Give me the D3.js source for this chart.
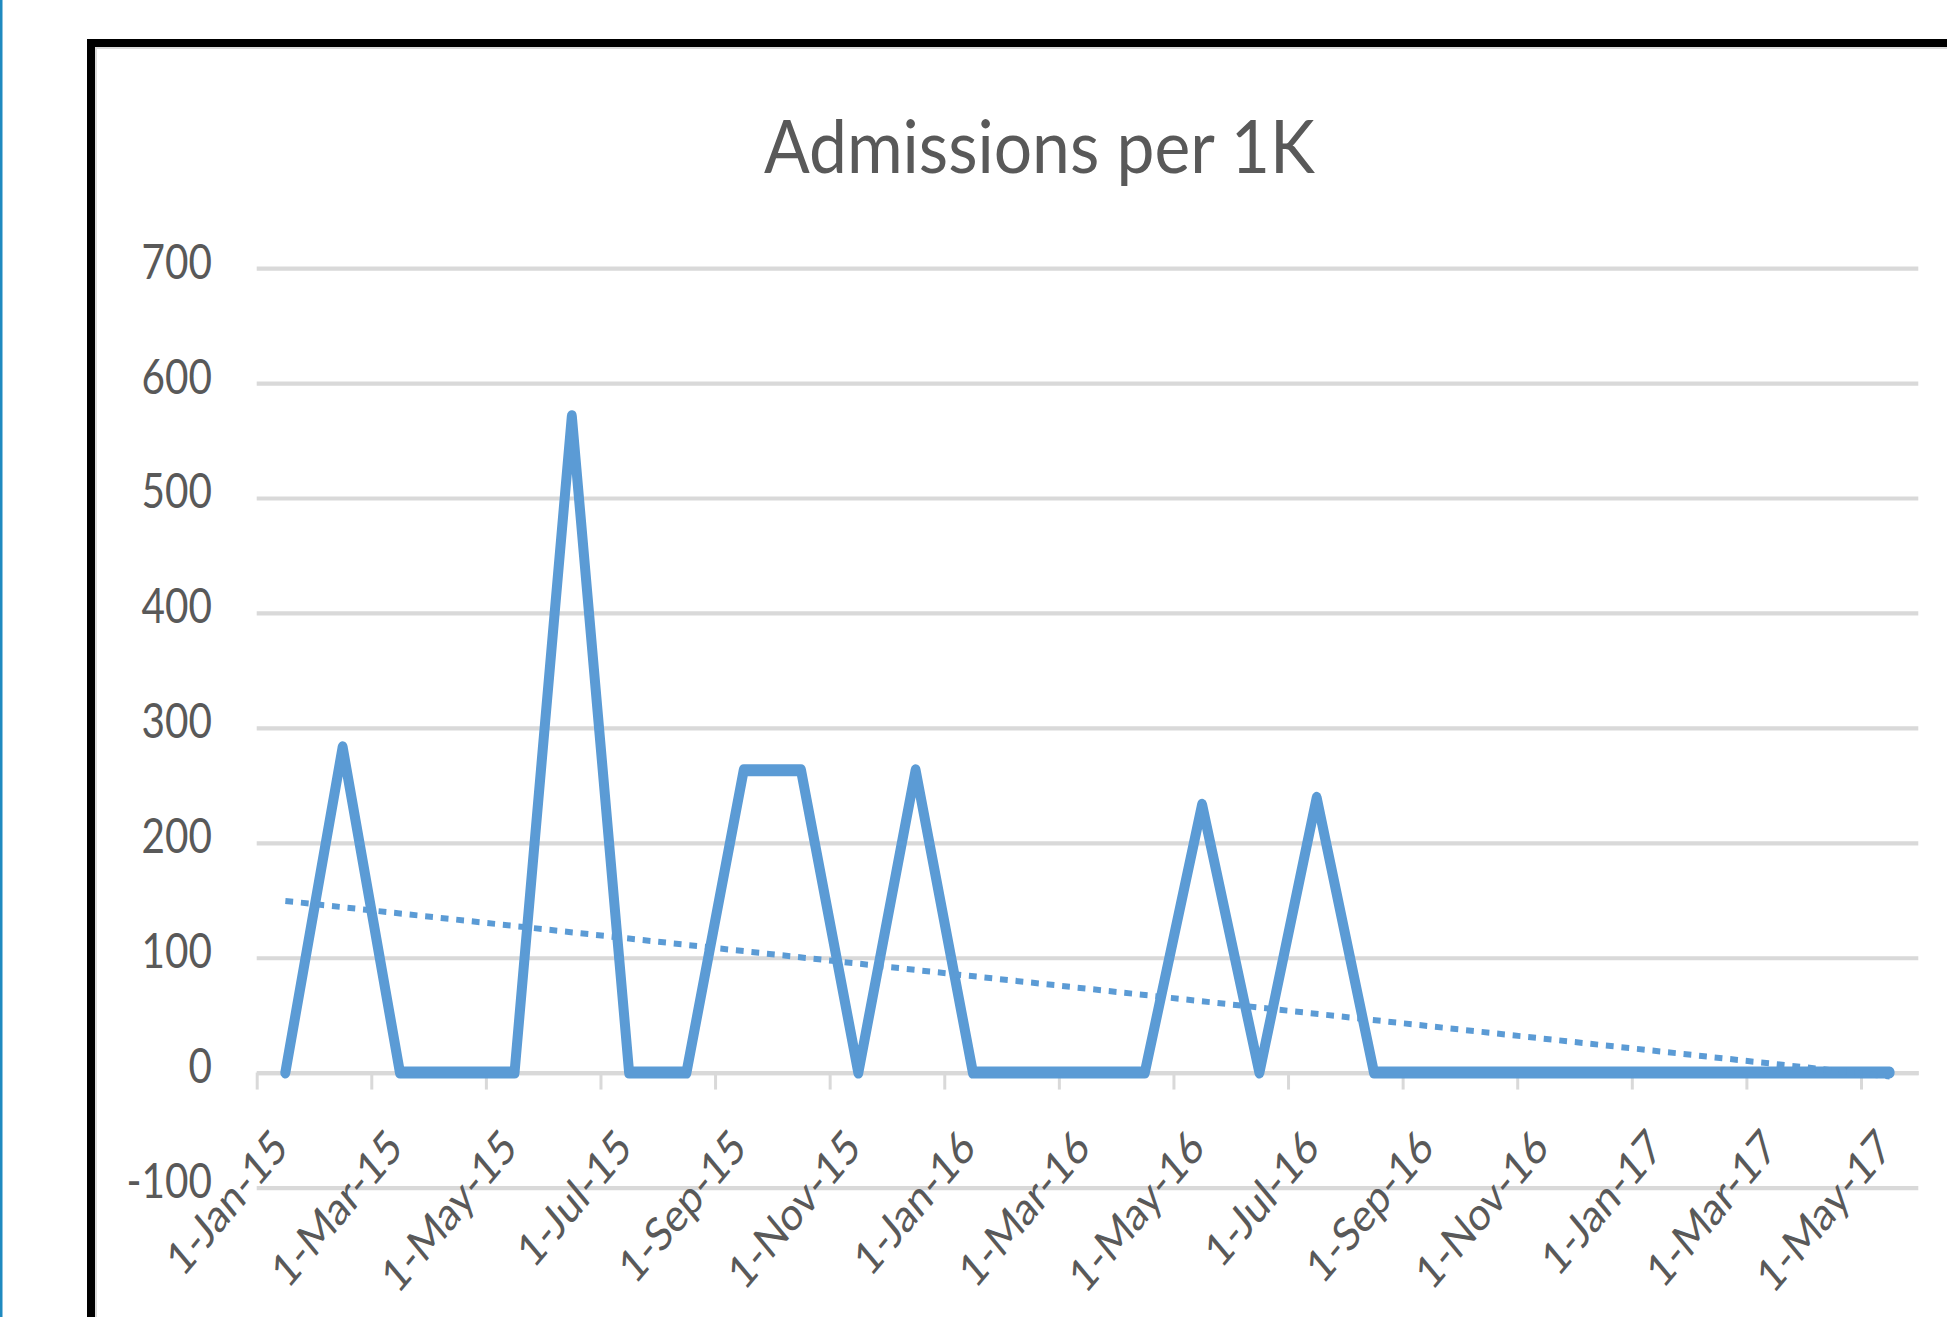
<!DOCTYPE html>
<html>
<head>
<meta charset="utf-8">
<script src="https://cdn.jsdelivr.net/npm/d3@7/dist/d3.min.js"></script>
<style>
  html, body { margin: 0; padding: 0; background: #ffffff; overflow: hidden; }
  svg { display: block; }
</style>
</head>
<body>
<script>
// ---- data ----
const chartTitle = "Admissions per 1K";
const months = [
  "1-Jan-15","1-Feb-15","1-Mar-15","1-Apr-15","1-May-15","1-Jun-15","1-Jul-15","1-Aug-15","1-Sep-15","1-Oct-15","1-Nov-15","1-Dec-15",
  "1-Jan-16","1-Feb-16","1-Mar-16","1-Apr-16","1-May-16","1-Jun-16","1-Jul-16","1-Aug-16","1-Sep-16","1-Oct-16","1-Nov-16","1-Dec-16",
  "1-Jan-17","1-Feb-17","1-Mar-17","1-Apr-17","1-May-17"
];
const admissions = [
  0, 283, 0, 0, 0, 571, 0, 0, 263, 263, 0, 263,
  0, 0, 0, 0, 233, 0, 239, 0, 0, 0, 0, 0,
  0, 0, 0, 0, 0
];
const yTickValues = [-100, 0, 100, 200, 300, 400, 500, 600, 700];
const yTickLabels = ["-100", "0", "100", "200", "300", "400", "500", "600", "700"];
const xLabelEvery = 2;

// ---- layout ----
const W = 1947, H = 1317;
const K = 1.2;               // vertical stretch of the chart picture
const BLUE = "#5B9BD5";
const GRID = "#d9d9d9";
const TEXT = "#595959";
const FONT = "Lato, 'Open Sans', sans-serif";

const svg = d3.select("body").append("svg")
  .attr("width", W).attr("height", H);

svg.append("rect").attr("width", W).attr("height", H).attr("fill", "#fff");
// thin teal edge at far left
svg.append("rect").attr("x", 0).attr("y", 0).attr("width", 2.5).attr("height", H).attr("fill", "#1f8ac0");
// black frame + inner light border
svg.append("rect").attr("x", 91).attr("y", 43).attr("width", 3000).attr("height", 3000)
  .attr("fill", "none").attr("stroke", "#000").attr("stroke-width", 8);
svg.append("rect").attr("x", 96).attr("y", 48).attr("width", 3000).attr("height", 3000)
  .attr("fill", "none").attr("stroke", "#dcdcdc").attr("stroke-width", 2);

const g = svg.append("g").attr("transform", `scale(1,${K})`);

const x0 = 256.7, x1 = 1918.3;
const x = d3.scaleLinear().domain([0, months.length]).range([x0, x1]);
const y = d3.scaleLinear().domain([-100, 700]).range([1187.5 / K, 268 / K]);

// title
g.append("text")
  .attr("x", 1039.4).attr("y", 173 / K)
  .attr("text-anchor", "middle")
  .attr("font-family", FONT).attr("font-size", 62)
  .attr("fill", TEXT)
  .attr("textLength", 551).attr("lengthAdjust", "spacingAndGlyphs")
  .text(chartTitle);

// y axis with gridlines
const yAxis = d3.axisLeft(y).tickValues(yTickValues).tickSize(-(x1 - x0)).tickSizeOuter(0)
  .tickFormat(v => yTickLabels[yTickValues.indexOf(v)]);
const ya = g.append("g").attr("transform", `translate(${x0},0)`).call(yAxis);
ya.select(".domain").remove();
ya.selectAll(".tick line").attr("stroke", GRID).attr("stroke-width", 3.5);
ya.selectAll(".tick text")
  .attr("x", 212 - x0).attr("dy", null).attr("y", 10 / K)
  .attr("text-anchor", "end")
  .attr("font-family", FONT).attr("font-size", 40.5)
  .attr("fill", TEXT);

// x axis tick marks at month boundaries (every 2 months)
const boundaryTicks = d3.range(0, months.length, xLabelEvery);
const xTickAxis = d3.axisBottom(x).tickValues(boundaryTicks).tickSize(17 / K).tickSizeOuter(0).tickFormat("");
const xt = g.append("g").attr("transform", `translate(0,${y(0)})`).call(xTickAxis);
xt.select(".domain").attr("stroke", GRID).attr("stroke-width", 3.5);
xt.selectAll(".tick line").attr("stroke", GRID).attr("stroke-width", 3);

// x labels centred on their month
const labelIdx = d3.range(0, months.length, xLabelEvery);
const xLabelAxis = d3.axisBottom(x).tickValues(labelIdx.map(i => i + 0.5))
  .tickSize(0).tickFormat(v => months[Math.round(v - 0.5)]);
const xl = g.append("g").attr("transform", `translate(0,${y(0)})`).call(xLabelAxis);
xl.select(".domain").remove();
const labY = 1150 / K - y(0);
xl.selectAll(".tick text")
  .attr("y", null).attr("dy", null)
  .attr("text-anchor", "end")
  .attr("transform", `translate(4,${labY}) rotate(-45)`)
  .attr("font-family", FONT).attr("font-size", 39)
  .attr("fill", TEXT);

// series line
const pts = admissions.map((v, i) => [x(i + 0.5), y(v)]);
g.append("path")
  .attr("d", d3.line()(pts))
  .attr("fill", "none").attr("stroke", BLUE)
  .attr("stroke-width", 10)
  .attr("stroke-linejoin", "round").attr("stroke-linecap", "round");

// linear trendline (least squares of the series)
const n = admissions.length;
const mx = d3.mean(d3.range(n));
const my = d3.mean(admissions);
let sxy = 0, sxx = 0;
admissions.forEach((v, i) => { sxy += (i - mx) * (v - my); sxx += (i - mx) * (i - mx); });
const slope = sxy / sxx, icpt = my - slope * mx;
const trendPts = [0, n - 1].map(i => [x(i + 0.5), y(icpt + slope * i)]);
g.append("path")
  .attr("d", d3.line()(trendPts))
  .attr("fill", "none").attr("stroke", BLUE)
  .attr("stroke-width", 5)
  .attr("stroke-dasharray", "7.8 7.8");
</script>
</body>
</html>
